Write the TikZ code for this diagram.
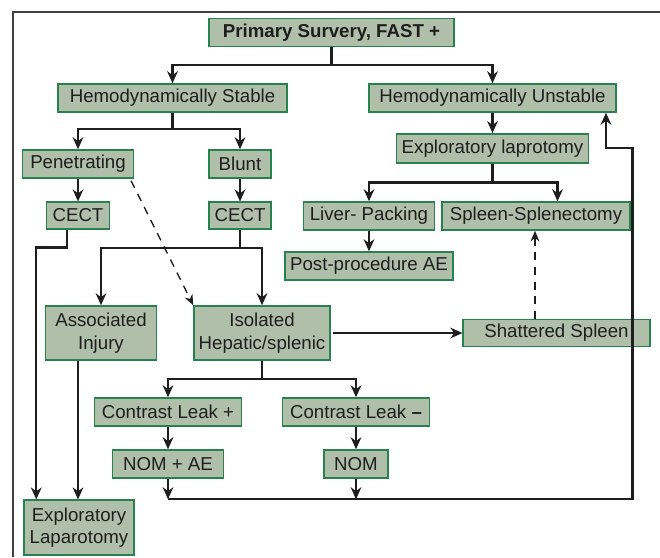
\documentclass[tikz,border=0pt]{standalone}
\usepackage{fontspec}
\setmainfont{Liberation Sans}
\usetikzlibrary{arrows.meta,calc}
\definecolor{boxfill}{RGB}{176,191,170}
\definecolor{boxline}{RGB}{40,130,80}
\definecolor{inkc}{RGB}{30,30,30}
\tikzset{
  box/.style={draw=boxline,fill=boxfill,line width=1.1pt,inner sep=0pt,
    text=inkc,align=center,font=\fontsize{14}{17}\selectfont},
  arr/.style={line width=1.8pt,inkc,-{Stealth[length=9pt,width=8pt]}},
  darr/.style={line width=1pt,inkc,dash pattern=on 6pt off 5pt,-{Stealth[length=8pt,width=6.5pt]}}
}
\begin{document}
\begin{tikzpicture}[x=0.75pt,y=-0.75pt]
  \useasboundingbox (0,0) rectangle (660,557);
  % outer frame
  \draw[line width=1pt,black!75] (13,557) -- (13,12) -- (660,12);

  \node[box,minimum width=184pt,minimum height=21pt,font=\fontsize{14}{17}\selectfont\bfseries] at (331.5,32.5) (prim) {Primary Survery, FAST +};
  \node[box,minimum width=172pt,minimum height=21pt] at (172.5,98) (stable) {Hemodynamically Stable};
  \node[box,minimum width=185pt,minimum height=21pt] at (492.5,98) (unstable) {Hemodynamically Unstable};
  \node[box,minimum width=83pt,minimum height=21pt] at (78,164) (pen) {Penetrating};
  \node[box,minimum width=46.5pt,minimum height=21pt] at (240,164) (blunt) {Blunt};
  \node[box,minimum width=144pt,minimum height=22pt] at (492.5,148.5) (explap) {Exploratory laprotomy};
  \node[box,minimum width=47pt,minimum height=20pt] at (78,215.5) (cectL) {CECT};
  \node[box,minimum width=46.5pt,minimum height=20pt] at (240,215.5) (cectM) {CECT};
  \node[box,minimum width=98pt,minimum height=21pt] at (369,216) (liver) {Liver- Packing};
  \node[box,minimum width=141pt,minimum height=21pt] at (536,216) (spleen) {Spleen-Splenectomy};
  \node[box,minimum width=126pt,minimum height=21pt] at (369,266) (post) {Post-procedure AE};
  \node[box,minimum width=83pt,minimum height=40.5pt] at (101,333) (assoc) {Associated\\Injury};
  \node[box,minimum width=102pt,minimum height=40.5pt] at (262,333) (isol) {Isolated\\Hepatic/splenic};
  \node[box,minimum width=140pt,minimum height=20pt] at (556.5,333) (shatter) {Shattered Spleen};
  \node[box,minimum width=110pt,minimum height=21pt] at (168,412) (leakp) {Contrast Leak +};
  \node[box,minimum width=110pt,minimum height=21pt] at (356,412) (leakm) {Contrast Leak \textbf{--}};
  \node[box,minimum width=83pt,minimum height=21pt] at (168,464) (nomae) {NOM + AE};
  \node[box,minimum width=48pt,minimum height=21pt] at (356,464) (nom) {NOM};
  \node[box,minimum width=82.5pt,minimum height=41pt] at (79,527.5) (lap) {Exploratory\\Laparotomy};

  \draw[arr] (prim.south) -- ++(0,17.5) -| (stable.north);
  \draw[arr] (prim.south) -- ++(0,17.5) -| (unstable.north);
  \draw[arr] (stable.south) -- ++(0,16.5) -| (pen.north);
  \draw[arr] (stable.south) -- ++(0,16.5) -| (blunt.north);
  \draw[arr] (unstable.south) -- (explap.north);
  \draw[arr] (explap.south) -- ++(0,18.5) -| (liver.north);
  \draw[arr] (explap.south) -- ++(0,18.5) -| ($(spleen.north)+(21.5,0)$);
  \draw[arr] (liver.south) -- (post.north);
  \draw[arr] (pen.south) -- (cectL.north);
  \draw[arr] (blunt.south) -- (cectM.north);
  \draw[arr] ($(cectL.south)+(-11,0)$) -- ++(0,18) -| ($(lap.north west)+(13,0)$);
  \draw[arr] (cectM.south) -- ++(0,18.5) -| (assoc.north);
  \draw[arr] (cectM.south) -- ++(0,18.5) -| (isol.north);
  \draw[darr] ($(pen.south east)+(-3,2)$) -- (isol.north west);
  \draw[arr] ($(assoc.south)+(-23,0)$) coordinate (aj) -- (aj |- lap.north);
  \draw[arr] ($(isol.east)+(2,0)$) -- (shatter.west);
  \draw[darr] ($(shatter.north)+(-21.5,0)$) coordinate (sj) -- (sj |- spleen.south);
  \draw[arr] (isol.south) -- ++(0,18) -| (leakp.north);
  \draw[arr] (isol.south) -- ++(0,18) -| (leakm.north);
  \draw[arr] (leakp.south) -- (nomae.north);
  \draw[arr] (leakm.south) -- (nom.north);
  \draw[arr] (nomae.south) -- ++(0,20.5);
  \draw[arr] (nom.south) -- ++(0,20.5);
  \draw[arr] ($(nomae.south)+(0,20.5)$) -| ($(unstable.south)+(140,35)$) -| ($(unstable.south)+(113.5,0)$);
\end{tikzpicture}
\end{document}
